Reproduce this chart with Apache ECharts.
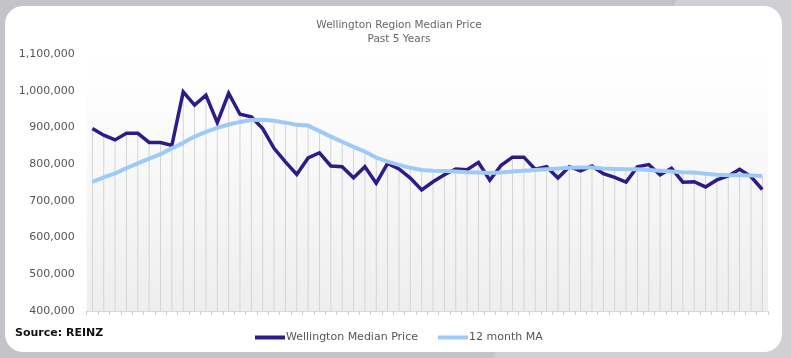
<!DOCTYPE html>
<html>
<head>
<meta charset="utf-8">
<script src="https://cdn.jsdelivr.net/npm/echarts@6/dist/echarts.min.js"></script>
<style>
html,body{margin:0;padding:0;background:#c4c3c8;}
#chart{width:791px;height:358px;}
</style>
</head>
<body>
<div id="chart"></div>
<script>
// 60 months (5 years)
const months = Array.from({length: 60}, (_, i) => 'M' + (i + 1));

const medianPrice = [
  897000, 879000, 866000, 884000, 884000, 859000, 859000, 851000, 997000, 961000,
  988000, 913000, 993000, 936000, 929000, 897000, 843000, 806000, 772000, 817000,
  831000, 795000, 793000, 763000, 793000, 748000, 802000, 787000, 762000, 730000,
  752000, 771000, 787000, 785000, 805000, 756000, 797000, 819000, 819000, 786000,
  793000, 762000, 793000, 782000, 795000, 774000, 764000, 751000, 793000, 799000,
  771000, 789000, 751000, 752000, 738000, 757000, 768000, 786000, 766000, 731000
];

const movingAvg = [
  752000, 764000, 775000, 789000, 802000, 815000, 827000, 843000, 858000, 875000,
  888000, 899000, 908000, 915000, 920000, 921000, 918000, 913000, 907000, 905000,
  890000, 875000, 861000, 847000, 834000, 818000, 807000, 798000, 790000, 784000,
  782000, 781000, 780000, 778000, 777000, 776000, 777000, 780000, 782000, 784000,
  786000, 788000, 790000, 791000, 791000, 788000, 787000, 786000, 786000, 784000,
  782000, 780000, 778000, 777000, 774000, 771000, 770000, 770000, 769000, 768000
];

const yTicks = { min: 400000, max: 1100000, interval: 100000 };

const dropLines = medianPrice.map((v, i) => Math.max(v, movingAvg[i]));

const chart = echarts.init(document.getElementById('chart'), null, {renderer: 'canvas'});
const FONT = 'DejaVu Sans';

chart.setOption({
  animation: false,
  backgroundColor: '#c4c3c8',
  graphic: [
    { type: 'polygon', z: -10, shape: { points: [[677,0],[791,0],[791,358],[493,358]] }, style: { fill: '#d0cfd3' } },
    { type: 'rect', z: -5, shape: { x: 5, y: 6, width: 777, height: 346, r: 18 }, style: { fill: '#ffffff' } },
    { type: 'text', left: 15, top: 328, style: { text: 'Source: REINZ', font: 'bold 11px "DejaVu Sans"', fill: '#111' } }
  ],
  title: {
    text: 'Wellington Region Median Price\nPast 5 Years',
    left: 394, textAlign: 'center', top: 14,
    textStyle: { fontFamily: FONT, fontSize: 10.5, fontWeight: 'normal', color: '#666', lineHeight: 13.5 }
  },
  legend: {
    left: 250, top: 327,
    icon: 'rect', itemWidth: 30, itemHeight: 4, itemGap: 20,
    data: ['Wellington Median Price', '12 month MA'],
    textStyle: { fontFamily: FONT, fontSize: 11, color: '#555', padding: [0, 0, 0, -4] }
  },
  grid: {
    left: 86.7, right: 23, top: 54, bottom: 47,
    show: true, borderWidth: 0,
    backgroundColor: { type: 'linear', x: 0, y: 0, x2: 0, y2: 1,
      colorStops: [{ offset: 0, color: '#ffffff' }, { offset: 0.15, color: '#fdfdfd' }, { offset: 1, color: '#eeeeee' }] }
  },
  xAxis: {
    type: 'category', data: months, boundaryGap: true,
    axisLine: { show: true, lineStyle: { color: '#d8d8d8', width: 1 } },
    axisTick: { show: true, interval: 0, length: 4, lineStyle: { color: '#cfcfcf' } },
    axisLabel: { show: false, interval: 0 },
    splitLine: { show: false }
  },
  yAxis: {
    type: 'value', min: yTicks.min, max: yTicks.max, interval: yTicks.interval,
    axisLine: { show: false }, axisTick: { show: false },
    splitLine: { show: false },
    axisLabel: { margin: 12, fontFamily: FONT, fontSize: 11, color: '#555',
      formatter: v => v.toLocaleString('en-US') }
  },
  series: [
    { name: 'drop', type: 'bar', data: dropLines, barWidth: 1, silent: true,
      itemStyle: { color: '#d4d4d4' }, legendHoverLink: false },
    { name: 'Wellington Median Price', type: 'line', data: medianPrice, symbol: 'none',
      lineStyle: { color: '#2e1b88', width: 3.5, join: 'miter' }, itemStyle: { color: '#2e1b88' } },
    { name: '12 month MA', type: 'line', data: movingAvg, symbol: 'none',
      lineStyle: { color: '#9dcaf7', width: 4 }, itemStyle: { color: '#9dcaf7' } }
  ]
});
</script>
</body>
</html>
